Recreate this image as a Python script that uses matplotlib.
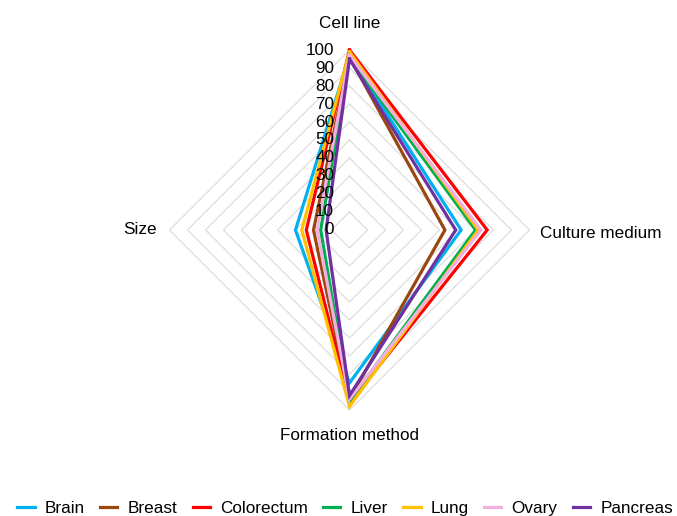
import matplotlib
matplotlib.use("Agg")
import matplotlib.pyplot as plt
import numpy as np

plt.rcParams['font.family'] = ['Liberation Sans', 'DejaVu Sans']

# Radar data (percent)
axes_labels = ['Cell line', 'Culture medium', 'Formation method', 'Size']
tissues = ['Brain', 'Breast', 'Colorectum', 'Liver', 'Lung', 'Ovary', 'Pancreas']
brain = [97, 62, 85, 30]
breast = [96, 53, 94, 20]
colorectum = [100, 76.5, 96, 24]
liver = [96, 70, 95, 16]
lung = [99, 71.5, 98, 26.5]
ovary = [97, 73, 94, 18]
pancreas = [95, 59, 92, 13]
series = [brain, breast, colorectum, liver, lung, ovary, pancreas]
colors = ['#00B0F0', '#9A460F', '#FF0000', '#00B050', '#FFC000', '#F4AEE0', '#7030A0']
ticks = list(range(0, 101, 10))

# angles: top, right, bottom, left
angles = np.pi / 2 - np.arange(len(axes_labels)) * 2 * np.pi / len(axes_labels)


def to_xy(vals):
    vals = np.asarray(vals, dtype=float)
    x = vals * np.cos(angles)
    y = vals * np.sin(angles)
    return np.append(x, x[0]), np.append(y, y[0])


W, H = 677, 516
fig = plt.figure(figsize=(W / 100, H / 100), dpi=100)
cx, cy, r = 349.5, 230, 180
ax = fig.add_axes([(cx - r) / W, (H - cy - r) / H, 2 * r / W, 2 * r / H])
ax.set_xlim(-100, 100)
ax.set_ylim(-100, 100)
ax.set_aspect('equal')
ax.axis('off')

# grid rings
for t in ticks[1:]:
    gx, gy = to_xy([t] * len(axes_labels))
    ax.plot(gx, gy, color='#D9D9D9', lw=0.8, zorder=1, clip_on=False)

# data series
for name, vals, c in zip(tissues, series, colors):
    x, y = to_xy(vals)
    ax.plot(x, y, color=c, lw=2.3, label=name, zorder=3, clip_on=False,
            solid_joinstyle='miter')

# tick labels along top axis
for t in ticks:
    ax.text(-8.5, t, str(t), ha='right', va='center', fontsize=12.3, zorder=4)

# category labels
ax.text(0, 115, axes_labels[0], ha='center', va='center', fontsize=12.3)
ax.text(106, -2, axes_labels[1], ha='left', va='center', fontsize=12.3)
ax.text(0, -114, axes_labels[2], ha='center', va='center', fontsize=12.3)
ax.text(-107, 0, axes_labels[3], ha='right', va='center', fontsize=12.3)

fig.legend(loc='lower center', bbox_to_anchor=(0.51, -0.03), ncol=7, frameon=False,
           fontsize=12.3, handlelength=1.0, handletextpad=0.6, columnspacing=0.9)

fig.savefig('out.png', dpi=100)
